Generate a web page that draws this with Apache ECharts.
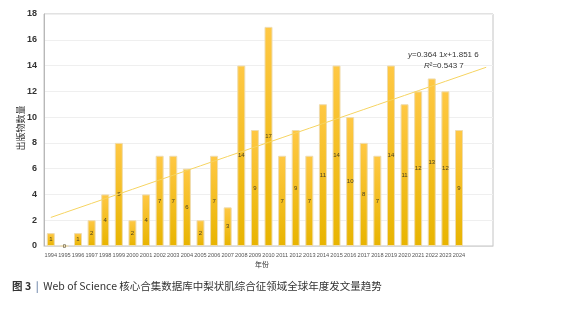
<!DOCTYPE html>
<html><head><meta charset="utf-8">
<script src="https://cdn.jsdelivr.net/npm/echarts@6/dist/echarts.min.js"></script>
<style>html,body{margin:0;padding:0;background:#fff}#c{width:571px;height:310px}</style>
</head><body><div id="c"></div>
<script>
var years = ['1994','1995','1996','1997','1998','1999','2000','2001','2002','2003','2004','2005','2006','2007','2008','2009','2010','2011','2012','2013','2014','2015','2016','2017','2018','2019','2020','2021','2022','2023','2024'];
var counts = [1,0,1,2,4,8,2,4,7,7,6,2,7,3,14,9,17,7,9,7,11,14,10,8,7,14,11,12,13,12,9];
var forecastPeriods = 2;
var yTicks = [0,2,4,6,8,10,12,14,16,18];
var equationText = ['y=0.364 1x+1.851 6', 'R²=0.543 7'];

// least-squares trendline over x = 1..n
var n = counts.length, sx=0, sy=0, sxy=0, sxx=0;
for (var i=0;i<n;i++){var x=i+1;sx+=x;sy+=counts[i];sxy+=x*counts[i];sxx+=x*x;}
var slope=(n*sxy-sx*sy)/(n*sxx-sx*sx), icpt=(sy-slope*sx)/n;
var cats = years.slice(); for (var k=0;k<forecastPeriods;k++) cats.push('');
var trend = cats.map(function(_,i){return +(slope*(i+1)+icpt).toFixed(4);});

var chart = echarts.init(document.getElementById('c'));
chart.setOption({
  animation:false,
  grid:{left:44,right:78,top:14,bottom:64,show:true,borderColor:'#c4c4c4',borderWidth:1},
  xAxis:{type:'category',data:cats,
    axisLine:{lineStyle:{color:'#d8d8d8'}},axisTick:{show:false},
    axisLabel:{interval:0,fontSize:5.6,color:'#555',margin:6,fontFamily:'Liberation Sans'}},
  yAxis:{type:'value',min:yTicks[0],max:yTicks[yTicks.length-1],interval:2,
    axisLine:{show:true,lineStyle:{color:'#b8b8b8'}},axisTick:{show:false},
    axisLabel:{fontSize:9,fontWeight:'bold',color:'#333',margin:7,fontFamily:'Liberation Sans'},
    splitLine:{lineStyle:{color:'#efefef'}}},
  series:[
    {type:'bar',data:counts,barWidth:8,
     itemStyle:{color:new echarts.graphic.LinearGradient(0,0,0,1,[{offset:0,color:'#FFC844'},{offset:1,color:'#E8B400'}]),
       borderColor:'#efdcae',borderWidth:1},
     label:{show:true,position:'inside',fontSize:6,color:'#4a4020',fontFamily:'Liberation Sans'}},
    {type:'line',data:trend,symbol:'none',silent:true,
     lineStyle:{color:'#F6D461',width:1},z:3}
  ],
  graphic:[
    {type:'text',x:21,y:128,rotation:Math.PI/2,style:{text:'出版物数量',fontSize:9,fill:'#333',
      fontFamily:'Noto Sans CJK SC',align:'center',verticalAlign:'middle'}},
    {type:'text',left:408,top:51,z:100,style:{text:'{i|y}=0.364 1{i|x}+1.851 6',
      rich:{i:{fontStyle:'italic',fontSize:8,fill:'#333',fontFamily:'Liberation Sans'}},
      fontSize:8,fill:'#333',fontFamily:'Liberation Sans',backgroundColor:'#fff'}},
    {type:'text',left:424,top:62,z:100,style:{text:'{i|R}²=0.543 7',
      rich:{i:{fontStyle:'italic',fontSize:8,fill:'#333',fontFamily:'Liberation Sans'}},
      fontSize:8,fill:'#333',fontFamily:'Liberation Sans',backgroundColor:'#fff'}},
    {type:'text',left:255,top:261,style:{text:'年份',fontSize:7,fill:'#333',fontFamily:'Noto Sans CJK SC'}},
    {type:'text',left:12,top:281,style:{text:'{b|图 3}  {p||}  Web of Science 核心合集数据库中梨状肌综合征领域全球年度发文量趋势',
      rich:{b:{fontWeight:'bold',fontSize:10.5,fill:'#333',fontFamily:'Noto Sans CJK SC'},
            p:{fontSize:10.5,fill:'#3a5a8a',fontFamily:'Noto Sans CJK SC'}},
      fontSize:10.5,fill:'#333',fontFamily:'Noto Sans CJK SC'}}
  ]
});
</script></body></html>
